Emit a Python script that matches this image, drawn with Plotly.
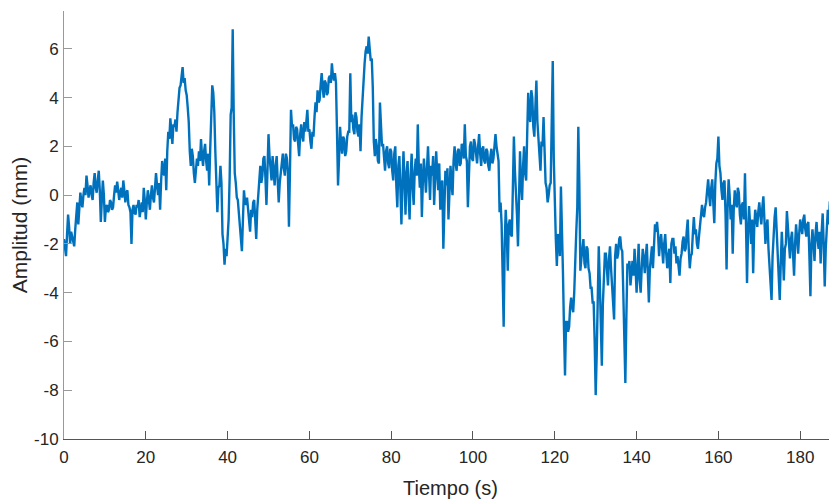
import plotly.graph_objects as go

# Sampling interval of the signal (s)
t_step = 0.25

# Amplitude (mm), one value every 0.25 s from t = 0 (5 s per row)
amp_000 = [-1.8, -2.2, -2.5, -1.6, -0.8, -1.3, -2.0, -1.5, -1.7, -2.0, -2.1, -1.4, -0.6, -0.3, -1.2, -0.6, 0.1, -0.3, -0.5, 0.0]
amp_005 = [0.3, 0.0, 0.8, 0.4, -0.1, 0.2, 0.4, 0.0, -0.2, 0.5, 0.9, 0.3, 0.1, 0.6, 1.0, 0.2, -1.1, -0.2, 0.6, 0.0]
amp_010 = [-1.1, -0.5, -0.4, -0.7, -0.6, -0.2, -0.3, -0.6, -0.5, 0.0, 0.4, 0.1, 0.55, 0.2, -0.2, 0.1, 0.3, -0.1, 0.6, 0.2]
amp_015 = [-0.3, 0.1, 0.2, -0.4, -0.5, -0.7, -2.0, -0.6, -0.4, -0.7, -0.8, -0.4, -0.5, -0.2, -0.9, -0.6, -0.3, -0.7, 0.3, -0.2]
amp_020 = [-1.0, -0.3, 0.2, -0.2, -0.6, 0.0, 0.4, -0.1, -0.3, 0.3, 0.9, 0.4, 0.0, 0.5, -0.6, 0.6, 1.4, 1.0, 0.8, 1.5]
amp_025 = [0.2, 1.8, 2.6, 2.3, 3.15, 2.6, 2.1, 2.9, 2.8, 3.1, 2.6, 3.4, 3.9, 4.4, 4.5, 4.9, 5.25, 4.6, 4.8, 4.3]
amp_030 = [4.1, 3.6, 3.0, 1.8, 1.2, 1.9, 1.6, 0.9, 0.5, 1.0, 1.5, 1.2, 1.8, 1.4, 2.3, 1.6, 1.2, 1.8, 2.1, 1.4]
amp_035 = [1.0, 1.7, 0.4, 1.9, 3.8, 4.5, 4.2, 3.4, 1.8, 0.6, -0.7, 0.3, 0.4, 1.2, 0.5, -1.6, -2.0, -2.85, -2.2, -2.5]
amp_040 = [-1.9, -1.0, 0.7, 3.3, 3.6, 6.8, 3.3, 0.9, 0.5, -0.1, -0.2, -0.8, -1.2, -2.0, -2.3, -1.0, 0.2, -0.3, -0.4, -0.1]
amp_045 = [-0.5, -1.0, -1.5, -0.6, -0.9, -0.3, -0.2, -1.0, -1.8, -0.6, 0.0, 0.6, 1.2, 0.5, 0.8, 1.5, 1.6, 0.7, -0.4, 1.0]
amp_050 = [2.5, 1.6, 1.2, 0.6, 1.6, 1.0, 0.4, 1.2, 1.6, 0.6, -0.3, 0.5, 1.0, 1.5, 1.7, 1.1, 0.8, 1.7, 1.5, 0.9]
amp_055 = [-1.3, 1.0, 3.5, 2.8, 2.9, 2.3, 2.2, 2.8, 2.7, 2.1, 1.6, 2.5, 2.9, 2.4, 2.2, 3.0, 2.6, 3.0, 3.5, 2.6]
amp_060 = [2.7, 2.2, 1.9, 2.6, 2.4, 3.2, 3.8, 3.4, 4.3, 3.8, 3.9, 4.5, 5.0, 4.4, 4.0, 4.7, 4.6, 4.1, 4.2, 4.8]
amp_065 = [4.9, 4.6, 5.4, 4.9, 4.7, 5.0, 4.6, 2.6, 0.4, 1.5, 2.8, 2.1, 1.7, 2.4, 2.3, 1.6, 1.8, 2.4, 2.6, 2.6]
amp_070 = [5.0, 3.0, 3.3, 2.7, 2.5, 3.4, 3.2, 2.6, 2.4, 2.9, 1.8, 3.2, 4.0, 5.0, 5.4, 5.9, 6.1, 5.8, 6.5, 6.0]
amp_075 = [5.5, 5.6, 4.4, 2.2, 1.6, 2.3, 2.0, 1.4, 1.3, 3.8, 2.4, 2.0, 2.1, 1.5, 1.0, 1.8, 2.0, 1.3, 1.1, 1.9]
amp_080 = [1.8, 1.0, 0.6, 1.7, 2.0, 0.4, -0.5, 1.2, 1.6, 0.2, -1.2, 0.5, 1.8, 0.6, -0.8, 0.9, 1.4, 0.0, -1.0, 0.8]
amp_085 = [1.7, 0.3, -0.4, 1.0, 1.5, 0.8, 2.9, 1.2, 0.3, 1.3, -0.9, 0.6, 1.5, 0.8, 0.1, 1.1, 2.0, 0.9, -0.2, 1.2]
amp_090 = [0.8, 1.6, -0.4, 0.7, 1.8, 0.9, 0.2, 1.3, -0.6, 0.4, 0.6, -2.2, 0.1, 1.0, 0.4, 1.1, -1.0, 0.3, 1.2, 0.5]
amp_095 = [0.0, 1.4, 2.0, 1.3, 1.0, 1.8, 1.9, 1.2, 1.3, 2.1, 2.0, 1.5, 2.9, 1.6, 1.4, -0.5, 1.0, 2.0, 2.2, 1.5]
amp_100 = [1.4, 2.3, 2.1, 1.6, 1.3, 2.0, 2.5, 1.7, 1.2, 1.9, 2.0, 1.4, 1.3, 1.9, 1.8, 1.2, 1.0, 1.6, 1.9, 1.3]
amp_105 = [1.5, 2.0, 2.5, 2.0, 1.7, 1.4, -0.7, -0.3, -1.2, -3.0, -5.4, -2.0, -0.6, -1.5, -3.1, -1.2, -1.0, -1.6, -1.7, 0.3]
amp_110 = [2.4, 1.0, 0.3, -0.8, -2.1, 0.2, 1.8, 0.5, -0.2, 1.2, 2.0, 0.9, 0.6, 2.5, 4.2, 3.3, 3.0, 4.3, 4.0, 2.8]
amp_115 = [2.4, 3.6, 4.7, 3.0, 2.4, 1.5, 1.0, 2.2, 2.0, 3.2, 1.6, 0.5, 0.3, -0.3, 0.0, 0.4, 0.5, 2.5, 5.5, 1.5]
amp_120 = [-1.0, -1.8, -2.9, -1.6, -1.7, -2.5, 0.35, -1.0, -3.2, -5.5, -7.4, -5.2, -5.2, -5.6, -5.4, -4.6, -4.2, -4.6, -4.8, -4.0]
amp_125 = [-2.4, -1.5, -0.5, 2.8, 0.5, -3.1, -2.6, -2.0, -1.8, -2.8, -3.0, -2.1, -2.2, -3.0, -3.2, -3.8, -3.8, -4.4, -4.4, -6.0]
amp_130 = [-8.2, -6.5, -4.0, -2.1, -3.5, -5.1, -7.0, -4.5, -3.0, -2.4, -2.4, -3.2, -3.7, -2.6, -2.1, -3.0, -3.8, -4.5, -5.1, -2.5]
amp_135 = [-2.0, -2.6, -2.4, -1.8, -1.7, -2.2, -2.3, -4.0, -6.5, -7.7, -5.0, -2.8, -3.0, -2.7, -3.7, -3.0, -2.7, -3.3, -2.2, -3.0]
amp_140 = [-4.0, -3.0, -2.0, -3.5, -4.0, -3.0, -2.2, -2.6, -3.2, -2.5, -2.0, -3.2, -4.4, -3.0, -2.5, -2.1, -3.0, -2.0, -1.2, -1.5]
amp_145 = [-1.1, -1.6, -2.5, -1.9, -1.6, -2.2, -2.8, -2.0, -1.6, -2.4, -3.0, -2.5, -2.2, -3.6, -2.0, -1.8, -1.8, -2.4, -2.1, -2.8]
amp_150 = [-2.5, -2.9, -3.3, -2.6, -2.4, -1.9, -1.7, -2.3, -2.2, -1.5, -1.0, -2.2, -3.0, -2.5, -2.4, -1.6, -0.9, -1.6, -1.4, -2.0]
amp_155 = [-2.2, -1.7, -1.3, -0.7, -0.4, -0.8, -0.9, -0.5, -0.3, 0.2, 0.65, 0.0, -0.45, 0.3, 0.65, -0.3, -1.15, 0.5, 1.3, 1.5]
amp_160 = [2.4, 1.2, 0.9, 0.2, -0.2, 0.5, 0.6, -0.8, -3.05, -0.5, 0.65, 0.0, -1.0, -0.4, -2.4, -0.6, 0.2, -0.3, -0.5, 0.3]
amp_165 = [0.1, -0.8, -1.2, -0.4, -0.3, -1.0, 0.9, -1.2, -3.6, -1.5, -0.45, -1.2, -2.0, -1.0, -3.2, -1.4, -0.6, -0.9, -1.3, -0.7]
amp_170 = [-0.3, -0.8, -1.2, -0.5, -0.05, -1.0, -2.0, -1.3, -1.0, -2.2, -3.0, -3.8, -4.3, -2.5, -1.5, -0.9, -0.5, -1.5, -2.4, -3.0]
amp_175 = [-4.3, -2.8, -1.5, -2.4, -3.5, -2.2, -2.0, -0.65, -1.2, -2.0, -2.6, -1.8, -1.5, -2.4, -3.3, -2.0, -1.2, -1.8, -2.4, -1.6]
amp_180 = [-1.0, -1.3, -1.6, -1.0, -0.8, -1.4, -1.7, -1.2, -1.1, -2.5, -4.15, -2.0, -1.4, -2.0, -2.7, -1.6, -1.1, -1.8, -2.2, -1.5]
amp_185 = [-2.8, -1.5, -0.75, -2.0, -3.75, -2.2, -1.5, -0.6, -1.2, -0.25]

amplitude = (amp_000 + amp_005 + amp_010 + amp_015 + amp_020 + amp_025 + amp_030 + amp_035
             + amp_040 + amp_045 + amp_050 + amp_055 + amp_060 + amp_065 + amp_070 + amp_075
             + amp_080 + amp_085 + amp_090 + amp_095 + amp_100 + amp_105 + amp_110 + amp_115
             + amp_120 + amp_125 + amp_130 + amp_135 + amp_140 + amp_145 + amp_150 + amp_155
             + amp_160 + amp_165 + amp_170 + amp_175 + amp_180 + amp_185)
time = [i * t_step for i in range(len(amplitude))]

x_ticks = [0, 20, 40, 60, 80, 100, 120, 140, 160, 180]
y_ticks = [-10, -8, -6, -4, -2, 0, 2, 4, 6]
x_title = "Tiempo (s)"
y_title = "Amplitud (mm)"

fig = go.Figure()
fig.add_trace(go.Scatter(
    x=time, y=amplitude, mode="lines",
    line=dict(color="#0072BD", width=2.4),
    showlegend=False, hoverinfo="skip",
))

font_family = "Liberation Sans, Arial, Helvetica, sans-serif"
# The page has an 8 px body margin, so the figure is 8 px smaller than the window.
fig.update_layout(
    width=829, height=492,
    margin=dict(l=56, r=0, t=3, b=61),
    paper_bgcolor="white", plot_bgcolor="white",
    font=dict(family=font_family, color="#262626", size=17),
)
fig.update_xaxes(
    range=[0, 189.0], tickvals=x_ticks, ticktext=[str(v) for v in x_ticks],
    automargin=False, showgrid=False, zeroline=False,
    showline=True, linecolor="#555555", linewidth=1,
    ticks="inside", ticklen=8, tickcolor="#555555", tickwidth=1,
    tickfont=dict(size=17, color="#262626"),
    ticklabelstandoff=3,
    title=dict(text=x_title, font=dict(size=20, color="#262626"), standoff=14),
)
fig.update_yaxes(
    range=[-10, 7.55], tickvals=y_ticks, ticktext=[str(v) for v in y_ticks],
    automargin=False, showgrid=False, zeroline=False,
    showline=True, linecolor="#999999", linewidth=1,
    ticks="inside", ticklen=8, tickcolor="#999999", tickwidth=1,
    tickfont=dict(size=17, color="#262626"),
    ticklabelstandoff=1,
    title=dict(text=y_title, font=dict(size=21, color="#262626"), standoff=2),
)

fig.write_html("out.html")
